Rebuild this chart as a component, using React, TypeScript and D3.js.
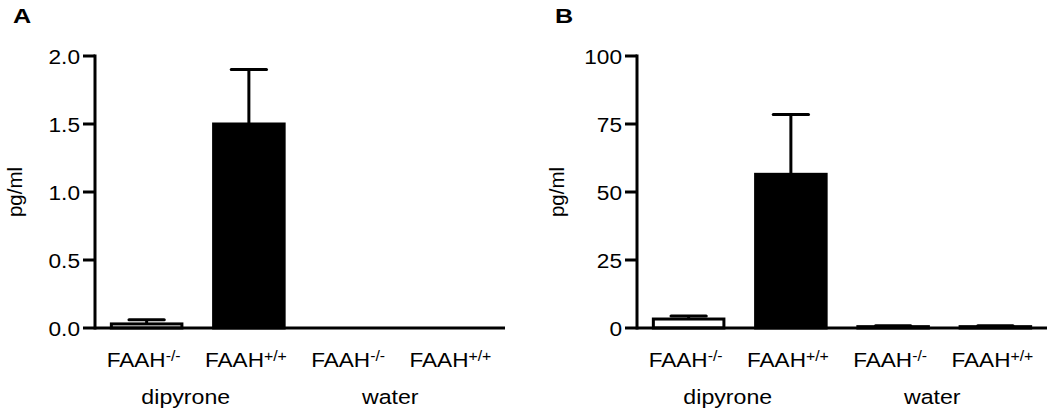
import React from "react";
import * as d3 from "d3";

// groups along the x axis
const genotypes = ["-/-", "+/+", "-/-", "+/+"];
const treatments = ["dipyrone", "dipyrone", "water", "water"];
const treatmentGroups = ["dipyrone", "water"];

// panel A (pg/ml)
const meansA = [0.03, 1.5, 0, 0];
const semA = [0.03, 0.4, 0, 0];
const ticksA = [0, 0.5, 1.0, 1.5, 2.0];

// panel B (pg/ml)
const meansB = [3.3, 56.5, 0.5, 0.5];
const semB = [1.1, 22, 0.3, 0.3];
const ticksB = [0, 25, 50, 75, 100];

const FONT = "'Liberation Sans', Arial, Helvetica, sans-serif";

// the source figure is a bit wider than tall, so text is stretched sideways
const Txt = ({ x, y, sx = 1.13, size = 20, anchor = "start", bold = false, dy, children }: any) => (
  <text
    transform={`translate(${x},${y}) scale(${sx},1)`}
    textAnchor={anchor}
    fontFamily={FONT}
    fontSize={size}
    fontWeight={bold ? "bold" : "normal"}
    dy={dy}
  >
    {children}
  </text>
);

type PanelProps = {
  x0: number;
  letter: string;
  means: number[];
  sem: number[];
  ticks: number[];
  fmt: (v: number) => string;
};

const Panel = ({ x0, letter, means, sem, ticks, fmt }: PanelProps) => {
  const axisX = x0 + 95;
  const yTop = 56;
  const yBottom = 328;
  const axisLen = 410;

  const ids = genotypes.map((_, i) => String(i));
  const xScale = d3
    .scaleBand()
    .domain(ids)
    .range([axisX, axisX + axisLen])
    .paddingInner(0.31)
    .paddingOuter(0.16);

  const yScale = d3
    .scaleLinear()
    .domain([ticks[0], ticks[ticks.length - 1]])
    .range([yBottom, yTop]);

  const bw = xScale.bandwidth();

  const groupCenter = (g: string) => {
    const idx = treatments.map((t, i) => (t === g ? i : -1)).filter((i) => i >= 0);
    const xs = idx.map((i) => (xScale(String(i)) as number) + bw / 2);
    return d3.mean(xs) as number;
  };

  return (
    <g>
      <Txt x={x0 + 13} y={23} size={21} sx={1.2} bold>
        {letter}
      </Txt>

      {/* y axis title */}
      <text
        transform={`translate(${x0 + 22},${(yTop + yBottom) / 2}) rotate(-90)`}
        textAnchor="middle"
        fontFamily={FONT}
        fontSize={20.5}
      >
        pg/ml
      </text>

      {/* bars */}
      {means.map((m, i) => (
        <rect
          key={"bar" + i}
          x={xScale(String(i))}
          y={yScale(m)}
          width={bw}
          height={yScale(0) - yScale(m)}
          fill={genotypes[i] === "-/-" ? "#fff" : "#000"}
          stroke="#000"
          strokeWidth={3}
        />
      ))}

      {/* error bars, upper half only */}
      {means.map((m, i) => {
        if (sem[i] <= 0) return null;
        const cx = (xScale(String(i)) as number) + bw / 2;
        return (
          <g key={"err" + i} stroke="#000" strokeWidth={3}>
            <line x1={cx} x2={cx} y1={yScale(m)} y2={yScale(m + sem[i])} />
            <line
              x1={cx - bw / 4}
              x2={cx + bw / 4}
              y1={yScale(m + sem[i])}
              y2={yScale(m + sem[i])}
              strokeLinecap="round"
            />
          </g>
        );
      })}

      {/* y axis */}
      <line x1={axisX} x2={axisX} y1={yTop - 1.5} y2={yBottom + 1.5} stroke="#000" strokeWidth={3} />
      {ticks.map((t) => (
        <g key={"t" + t}>
          <line x1={axisX - 12} x2={axisX} y1={yScale(t)} y2={yScale(t)} stroke="#000" strokeWidth={3} />
          <Txt x={axisX - 15} y={yScale(t)} dy="0.36em" anchor="end" size={21} sx={1.08}>
            {fmt(t)}
          </Txt>
        </g>
      ))}

      {/* x axis */}
      <line x1={axisX} x2={axisX + axisLen} y1={yBottom} y2={yBottom} stroke="#000" strokeWidth={3} />

      {/* category labels */}
      {genotypes.map((g, i) => (
        <Txt key={"lab" + i} x={(xScale(String(i)) as number) + bw / 2 - 3} y={367} anchor="middle" size={20}>
          FAAH
          <tspan fontSize={14} dy={-6}>
            {g}
          </tspan>
        </Txt>
      ))}

      {treatmentGroups.map((g) => (
        <Txt key={"grp" + g} x={groupCenter(g) - 12} y={404} anchor="middle" size={20.5}>
          {g}
        </Txt>
      ))}
    </g>
  );
};

export default function App() {
  return (
    <svg
      width={1050}
      height={412}
      style={{ position: "absolute", left: 0, top: 0, background: "#fff" }}
    >
      <Panel x0={0} letter="A" means={meansA} sem={semA} ticks={ticksA} fmt={d3.format(".1f")} />
      <Panel x0={542} letter="B" means={meansB} sem={semB} ticks={ticksB} fmt={d3.format("d")} />
    </svg>
  );
}
